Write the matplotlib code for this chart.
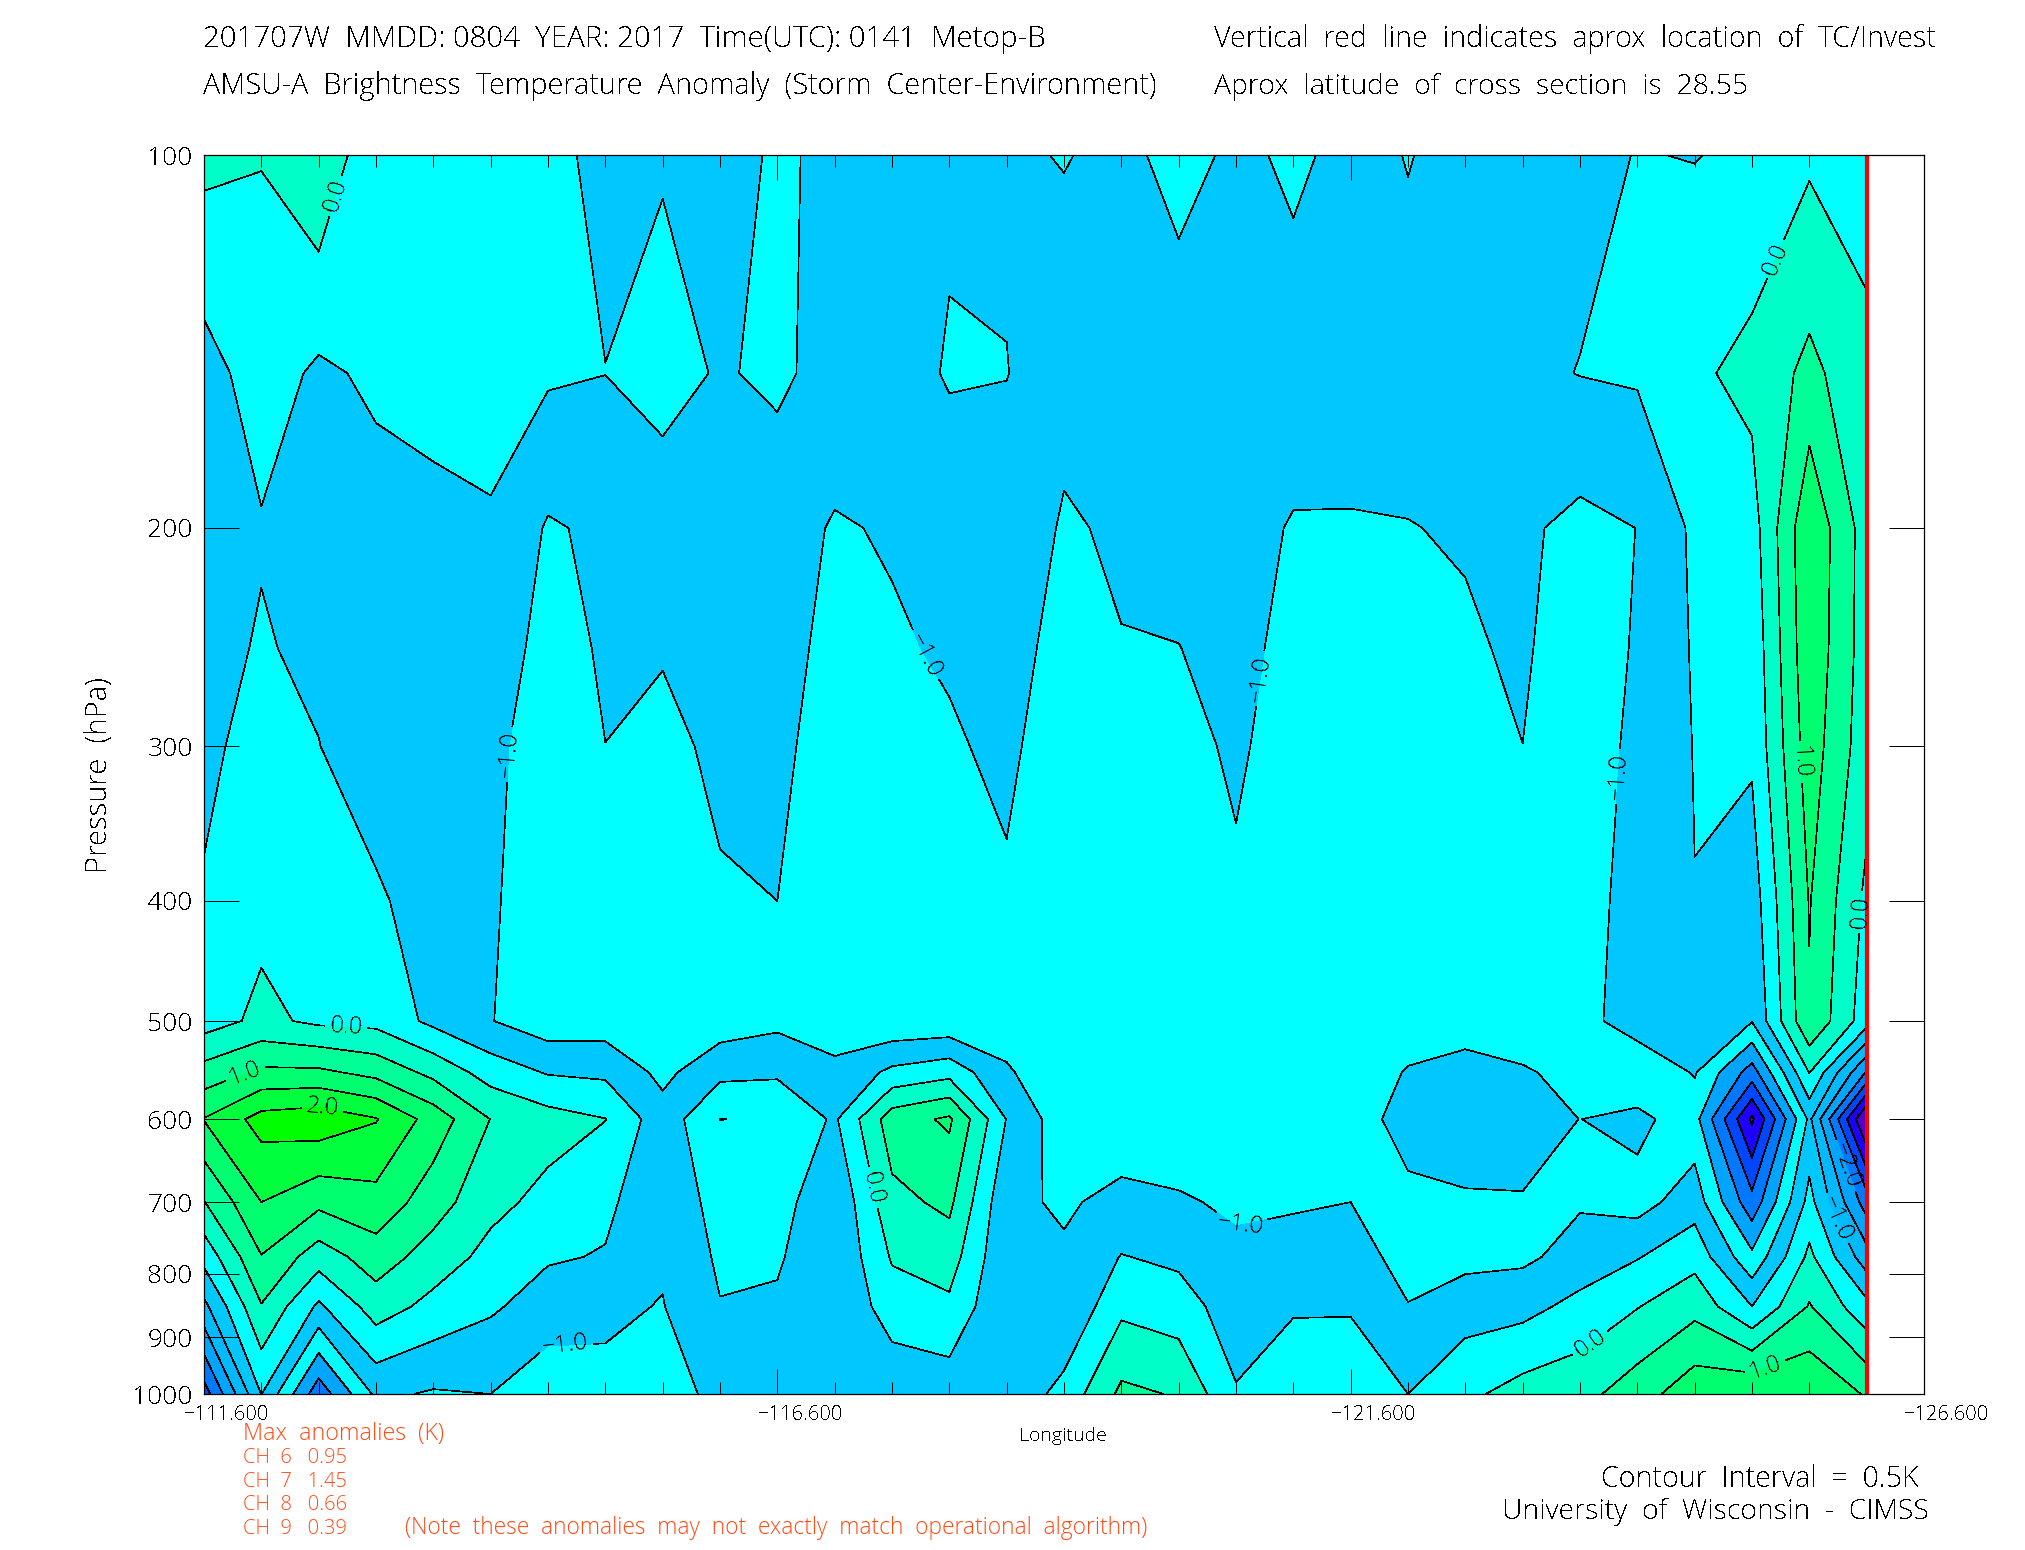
import numpy as np
import matplotlib
matplotlib.use("Agg")
import matplotlib.pyplot as plt
from matplotlib.patches import Rectangle
from matplotlib.transforms import ScaledTranslation

W, H = 2025, 1550

# Data
lons = [-111.6 - 0.5 * i for i in range(30)]
pressure = [100, 150, 200, 250, 300, 400, 500, 550, 600, 700, 775, 850, 1000]

# one list per longitude, top of the atmosphere first
anomaly_by_lon = [
    [.14, -.71, -.62, -.65, -.62, -.45, -.23, .7, 1.52, .48, -.33, -1.13, -2.74],
    [.02, -.25, -.54, -.46, -.3, -.15, .12, 1.1, 2.19, 1.5, .98, .47, -.49],
    [.47, -.59, -.65, -.6, -.49, -.35, -.1, 1.1, 2.31, 1.13, .23, -.59, -2.31],
    [-.45, -.41, -.69, -.75, -.8, -.42, -.15, .85, 2.03, 1.33, .76, .24, -.9],
    [-.3, -.38, -.59, -.65, -.7, -.75, -.62, .36, 1.29, .73, .27, -.15, -1.05],
    [-.3, -.35, -.54, -.75, -.85, -.95, -.98, -.22, .49, .14, -.15, -.43, -1.0],
    [-.4, -.43, -1.05, -1.16, -1.32, -1.23, -1.3, -.54, .2, -.146, -.45, -.73, -1.33],
    [-.6, -.495, -.91, -.95, -1.002, -1.1, -1.26, -.6, .01, -.4, -.53, -.92, -1.11],
    [-.55, -.3, -.79, -.97, -1.1, -1.25, -1.3, -1.13, -.8, -.85, -.94, -1.02, -1.3],
    [-.93, -.55, -.8, -.85, -.92, -1.04, -1.27, -.63, .005, -.32, -.42, -.52, -.81],
    [-.35, -.40, -.8, -.9, -.95, -1.0, -1.12, -.58, -.04, -.27, -.43, -.58, -.85],
    [-.72, -.7, -1.04, -1.08, -1.1, -1.15, -1.15, -.93, -.575, -.95, -.97, -.98, -.85],
    [-.75, -.8, -.96, -1.05, -1.15, -1.2, -1.4, -.38, .77, .36, .05, -.235, -.89],
    [-.61, -.44, -.9, -.95, -1.05, -1.2, -1.38, -.17, 1.08, .61, .24, -.1, -.79],
    [-.62, -.48, -.9, -.9, -.91, -1.06, -1.2, -.95, -.52, -.9, -.95, -.98, -.88],
    [-.46, -.95, -1.016, -1.09, -1.25, -1.3, -1.35, -1.3, -1.3, -1.06, -.94, -.97, -.33],
    [-.7, -.8, -.98, -1.005, -1.1, -1.2, -1.3, -1.3, -1.3, -.87, -.48, -.114, .61],
    [-.25, -.9, -.88, -1.005, -1.1, -1.2, -1.3, -1.3, -1.3, -.95, -.6, -.27, .46],
    [-.64, -.85, -.85, -.9, -.95, -1.05, -1.2, -1.25, -1.25, -1.07, -.91, -.76, -.46],
    [-.39, -.77, -1.03, -1.1, -1.15, -1.2, -1.25, -1.3, -1.3, -1.06, -.78, -.53, -.3],
    [-.67, -.79, -1.03, -1.1, -1.15, -1.2, -1.25, -1.3, -1.3, -1.0, -.76, -.52, -.35],
    [-.48, -.68, -1.02, -1.1, -1.15, -1.2, -1.25, -.964, -.75, -1.15, -1.2, -.98, -.5],
    [-.66, -.7, -.94, -1.085, -1.15, -1.2, -1.3, -.755, -.7, -1.06, -1.15, -.72, -.11],
    [-.6, -.6, -.92, -.896, -1.003, -1.1, -1.2, -.965, -.8, -1.03, -1.1, -.66, .2],
    [-.64, -.487, -1.13, -1.45, -1.2, -1.2, -1.2, -1.1, -1.005, -1.05, -.8, -.35, .33],
    [-.483, -.44, -.995, -.92, -.914, -.815, -.71, -1.45, -.85, -1.2, -.53, -.02, .77],
    [-.517, -.09, -.406, -.453, -.48, -.508, -.56, -.954, -1.32, -.72, -.17, .34, 1.32],
    [-.4, .15, -.22, -.35, -.42, -.77, -.98, -2.23, -3.59, -2.33, -1.38, -.5, 1.48],
    [-.085, .63, 1.42, 1.38, 1.27, 1.03, .95, .02, -.89, -.33, .12, .54, 1.44],
    [-.245, .15, .26, .25, .2, -.11, -.28, -2.05, -4.1, -2.25, -1.28, -.35, .95],
]

levels = [-6.0, -3.5, -3.0, -2.5, -2.0, -1.5, -1.0, -0.5, 0.0, 0.5, 1.0, 1.5, 2.0, 3.0]
band_colors = ["#5000c8", "#1e00ff", "#0046ff", "#0078ff", "#00a5ff", "#00ffff", "#00c8ff",
               "#00ffff", "#00ffc8", "#00ff96", "#00ff6e", "#00ff3c", "#00ff00"]

# the -1.5 to -1 band is not cyan in these two corners of the plot (lon from, lon to, p from, p to)
deep_boxes = [(-111.6, -112.1, 700, 1000), (-125.6, -126.1, 500, 900)]
deep_color = "#00b9ff"

# where the contour labels sit (longitude, pressure)
label_spots = [(-112.70, 107.5), (-125.27, 121), (-126.0, 408),
               (-114.31, 305), (-117.93, 252), (-120.73, 264), (-123.89, 317),
               (-125.56, 309), (-112.84, 506), (-111.94, 545), (-112.64, 584),
               (-117.41, 682), (-120.63, 725), (-114.75, 910),
               (-123.69, 910), (-125.19, 939), (-125.9, 655), (-125.85, 721)]

tick_lons = [-111.6, -116.6, -121.6, -126.6]
minor_lons = [-111.6 - 0.5 * i for i in range(31)]
tick_press = [100, 200, 300, 400, 500, 600, 700, 800, 900, 1000]

red_text = "#ff4a14"

plt.rcParams["font.family"] = ["Open Sans", "DejaVu Sans"]
plt.rcParams["font.weight"] = "light"
plt.rcParams["text.antialiased"] = False

fig = plt.figure(figsize=(W / 100, H / 100), dpi=100, facecolor="white")
ax = fig.add_axes([204 / W, 1 - 1394 / H, 1720 / W, 1239 / H])

x = np.array(lons)
y = np.log10(pressure)
z = np.array(anomaly_by_lon).T

ax.contourf(x, y, z, levels=levels, colors=band_colors, antialiased=False)
for lon0, lon1, p0, p1 in deep_boxes:
    deep = ax.contourf(x, y, z, levels=[-1.5, -1.0], colors=[deep_color], antialiased=False)
    box = Rectangle((lon0, np.log10(p0)), lon1 - lon0, np.log10(p1) - np.log10(p0),
                    transform=ax.transData)
    deep.set_clip_path(box)
lines = ax.contour(x, y, z, levels=levels[1:-1], colors="black", linewidths=0.5,
                   linestyles="solid", antialiased=False)

ax.set_xlim(-111.6, -126.6)
ax.set_ylim(3, 2)

ax.clabel(lines, fmt=lambda v: f"{v:.1f}".replace("-", "\u2212"), fontsize=17, colors="black",
          manual=[(a, np.log10(b)) for a, b in label_spots], inline=True)

ax.axvline(-126.1, color="#ff0000", lw=3)

ax.set_xticks(tick_lons)
ax.set_xticklabels([f"{v:.3f}".replace("-", "\u2212") for v in tick_lons], fontsize=14.5)
ax.set_xticks(minor_lons, minor=True)
ax.tick_params(axis="x", which="major", direction="in", top=True, length=18, width=0.72, pad=8)
ax.tick_params(axis="x", which="minor", direction="in", top=True, length=8.6, width=0.72)
for lab in ax.get_xticklabels():
    lab.set_transform(lab.get_transform() + ScaledTranslation(23 / 100, 0, fig.dpi_scale_trans))

ax.set_yticks(np.log10(tick_press))
ax.set_yticklabels([str(p) for p in tick_press], fontsize=19)
ax.tick_params(axis="y", direction="in", right=True, length=25, width=0.72, pad=8)
for spine in ax.spines.values():
    spine.set_linewidth(0.9)

renderer = fig.canvas.get_renderer()


def put(px, py, s, width=None, **kw):
    # width is the pixel length the string has in the reference
    t = fig.text(px / W, 1 - py / H, s, va="baseline", **kw)
    if width:
        t.set_fontsize(t.get_fontsize() * width / t.get_window_extent(renderer).width)
    return t


put(203, 47, "201707W  MMDD: 0804  YEAR: 2017  Time(UTC): 0141  Metop-B", width=846, fontsize=18)
put(203, 94, "AMSU-A  Brightness  Temperature  Anomaly  (Storm  Center-Environment)", width=955, fontsize=18)
put(1214, 47, "Vertical  red  line  indicates  aprox  location  of  TC/Invest", width=727, fontsize=18)
put(1214, 94, "Aprox  latitude  of  cross  section  is  28.55", width=537, fontsize=18)

put(1063, 1441, "Longitude", fontsize=14, ha="center")
put(1919, 1487, "Contour  Interval  =  0.5K", width=320, fontsize=18, ha="right")
put(1929, 1519, "University  of  Wisconsin  -  CIMSS", width=428, fontsize=18, ha="right")

red_lines = [(1440, "Max  anomalies  (K)", 200), (1463, "CH  6   0.95", 103), (1487, "CH  7   1.45", 103),
             (1510, "CH  8   0.66", 103), (1534, "CH  9   0.39", 103)]
for py, s, width in red_lines:
    put(243, py, s, width=width, fontsize=13, color=red_text, antialiased=True)
put(405, 1534, "(Note  these  anomalies  may  not  exactly  match  operational  algorithm)",
    width=746, fontsize=15, color=red_text, antialiased=True)

fig.text(99 / W, 1 - 775 / H, "Pressure  (hPa)", rotation=90, fontsize=21, ha="center", va="center")

fig.savefig("out.png", dpi=100)
